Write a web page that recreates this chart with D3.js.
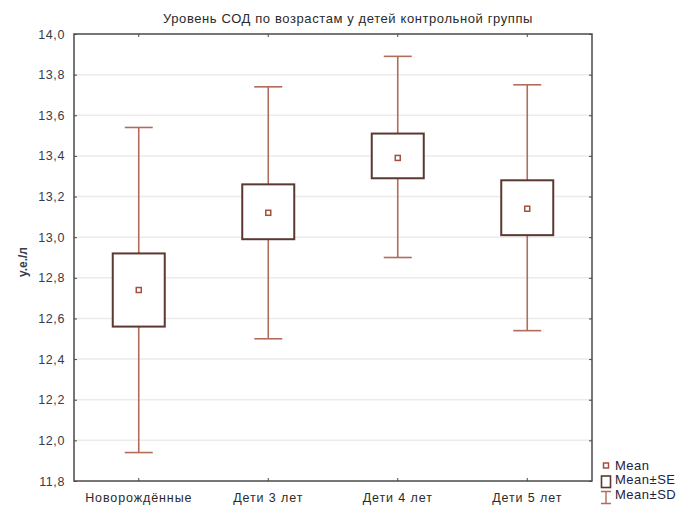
<!DOCTYPE html>
<html>
<head>
<meta charset="utf-8">
<script src="https://cdn.jsdelivr.net/npm/d3@7"></script>
<style>
  body { margin: 0; background: #fff; }
  text { font-family: "Liberation Sans", Arial, sans-serif; }
</style>
</head>
<body>
<div class="holder"></div>
<script>
// values
var groups = ['Новорождённые', 'Дети 3 лет', 'Дети 4 лет', 'Дети 5 лет']
var means = [12.74, 13.12, 13.39, 13.14]
var seLow = [12.56, 12.99, 13.29, 13.01]
var seHigh = [12.92, 13.26, 13.51, 13.28]
var sdLow = [11.94, 12.50, 12.90, 12.54]
var sdHigh = [13.54, 13.74, 13.89, 13.75]
var yTicks = [11.8, 12.0, 12.2, 12.4, 12.6, 12.8, 13.0, 13.2, 13.4, 13.6, 13.8, 14.0]
var legendItems = ['Mean', 'Mean±SE', 'Mean±SD']

var boxColor = '#5b3830',
    whiskColor = '#b36c5c',
    frameColor = '#4a4a4a'

var plotL = 74, plotR = 592, plotT = 34, plotB = 481

var svg = d3.select('.holder')
  .append('svg')
  .attr('width', 690)
  .attr('height', 506)

var xScale = d3.scaleBand()
  .domain(groups)
  .range([plotL, plotR])

var yScale = d3.scaleLinear()
  .domain([11.8, 14.0])
  .range([plotB, plotT])

var fmt = function(d){ return d3.format('.1f')(d).replace('.', ',') }
var cx = function(i){ return xScale(groups[i]) + xScale.bandwidth() / 2 }

// grid
svg.append('g')
  .selectAll('line')
  .data(yTicks.slice(1, -1))
  .enter()
  .append('line')
  .attr('x1', plotL).attr('x2', plotR)
  .attr('y1', function(d){ return yScale(d) })
  .attr('y2', function(d){ return yScale(d) })
  .attr('stroke', '#ebebeb')
  .attr('stroke-width', 1.5)

// axes
var yAxis = svg.append('g')
  .attr('transform', 'translate(' + plotL + ',0)')
  .call(d3.axisLeft(yScale).tickValues(yTicks).tickSize(-3).tickPadding(9).tickFormat(fmt))
yAxis.select('.domain').remove()
yAxis.selectAll('line').attr('stroke', frameColor)
yAxis.selectAll('text')
  .style('font-size', '12.5px')
  .style('letter-spacing', '0.6px')
  .attr('fill', '#3a3a48')

var yAxisR = svg.append('g')
  .attr('transform', 'translate(' + plotR + ',0)')
  .call(d3.axisRight(yScale).tickValues(yTicks).tickSize(-3).tickFormat(''))
yAxisR.select('.domain').remove()
yAxisR.selectAll('line').attr('stroke', frameColor)

var xAxis = svg.append('g')
  .attr('transform', 'translate(0,' + plotB + ')')
  .call(d3.axisBottom(xScale).tickSize(-3).tickPadding(12))
xAxis.select('.domain').remove()
xAxis.selectAll('line').attr('stroke', frameColor)
xAxis.selectAll('text')
  .style('font-size', '12.5px')
  .style('letter-spacing', '0.9px')
  .attr('fill', '#2a2a2a')

var xAxisT = svg.append('g')
  .attr('transform', 'translate(0,' + plotT + ')')
  .call(d3.axisTop(xScale).tickSize(-3).tickFormat(''))
xAxisT.select('.domain').remove()
xAxisT.selectAll('line').attr('stroke', frameColor)

// SD whiskers
var whisk = svg.append('g')
  .selectAll('g')
  .data(groups)
  .enter()
  .append('g')
  .attr('stroke', whiskColor)
  .attr('stroke-width', 1.6)

whisk.append('line')
  .attr('x1', function(d, i){ return cx(i) })
  .attr('x2', function(d, i){ return cx(i) })
  .attr('y1', function(d, i){ return yScale(sdLow[i]) })
  .attr('y2', function(d, i){ return yScale(sdHigh[i]) })
whisk.append('line')
  .attr('x1', function(d, i){ return cx(i) - 14 })
  .attr('x2', function(d, i){ return cx(i) + 14 })
  .attr('y1', function(d, i){ return yScale(sdHigh[i]) })
  .attr('y2', function(d, i){ return yScale(sdHigh[i]) })
whisk.append('line')
  .attr('x1', function(d, i){ return cx(i) - 14 })
  .attr('x2', function(d, i){ return cx(i) + 14 })
  .attr('y1', function(d, i){ return yScale(sdLow[i]) })
  .attr('y2', function(d, i){ return yScale(sdLow[i]) })

// SE boxes
svg.append('g')
  .selectAll('rect')
  .data(groups)
  .enter()
  .append('rect')
  .attr('x', function(d, i){ return cx(i) - 26 })
  .attr('width', 52)
  .attr('y', function(d, i){ return yScale(seHigh[i]) })
  .attr('height', function(d, i){ return yScale(seLow[i]) - yScale(seHigh[i]) })
  .attr('fill', '#fff')
  .attr('stroke', boxColor)
  .attr('stroke-width', 2)

// means
svg.append('g')
  .selectAll('rect')
  .data(groups)
  .enter()
  .append('rect')
  .attr('x', function(d, i){ return cx(i) - 2.5 })
  .attr('y', function(d, i){ return yScale(means[i]) - 2.5 })
  .attr('width', 5)
  .attr('height', 5)
  .attr('fill', '#fff')
  .attr('stroke', '#a4503f')
  .attr('stroke-width', 1.5)

// frame
svg.append('rect')
  .attr('x', plotL).attr('y', plotT)
  .attr('width', plotR - plotL).attr('height', plotB - plotT)
  .attr('fill', 'none')
  .attr('stroke', frameColor)
  .attr('stroke-width', 1.5)

// title and y label
svg.append('text')
  .attr('x', 348).attr('y', 23)
  .attr('text-anchor', 'middle')
  .style('font-size', '13px')
  .style('letter-spacing', '0.6px')
  .attr('fill', '#2a2a2a')
  .text('Уровень СОД по возрастам у детей контрольной группы')

svg.append('text')
  .attr('transform', 'translate(27,262) rotate(-90)')
  .attr('text-anchor', 'middle')
  .style('font-size', '12px')
  .style('font-weight', 'bold')
  .attr('fill', '#3a3a48')
  .text('у.е./л')

// legend
var legend = svg.append('g').attr('id', 'legend')
legend.append('rect')
  .attr('x', 603.5).attr('y', 463).attr('width', 5).attr('height', 5)
  .attr('fill', '#fff').attr('stroke', '#a4503f').attr('stroke-width', 1.5)
legend.append('rect')
  .attr('x', 601.5).attr('y', 476).attr('width', 9).attr('height', 11.5)
  .attr('fill', '#fff').attr('stroke', boxColor).attr('stroke-width', 1.6)
legend.append('path')
  .attr('d', 'M601,491.5H611M606,491.5V503.5M601,503.5H611')
  .attr('fill', 'none').attr('stroke', whiskColor).attr('stroke-width', 1.4)
legend.selectAll('text')
  .data(legendItems)
  .enter()
  .append('text')
  .attr('x', 615)
  .attr('y', function(d, i){ return 469.5 + i * 14.5 })
  .style('font-size', '13px')
  .style('letter-spacing', '0.5px')
  .attr('fill', '#1e2240')
  .text(function(d){ return d })
</script>
</body>
</html>
